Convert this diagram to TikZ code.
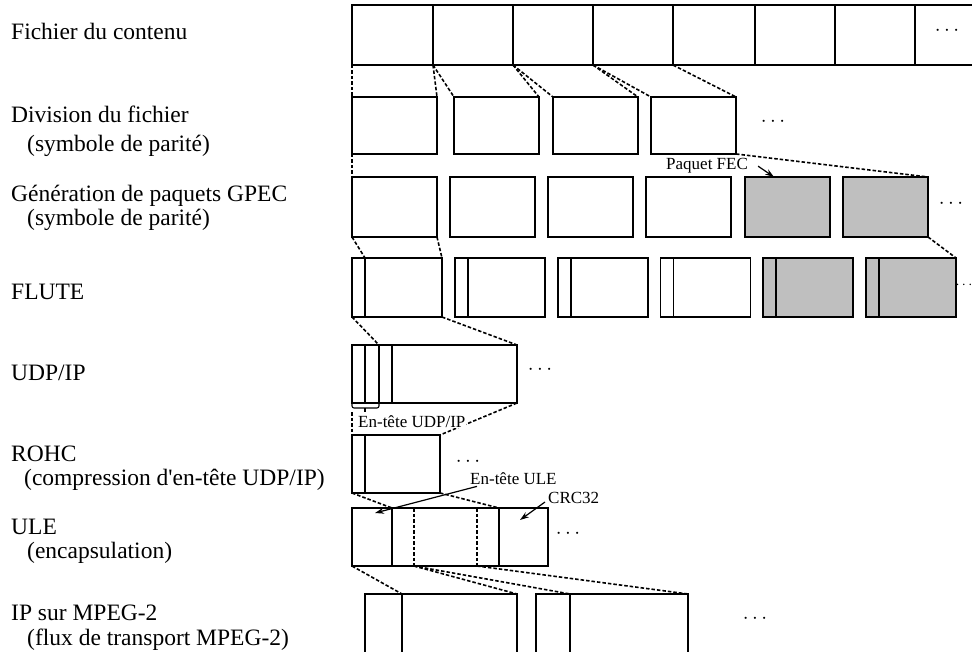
\documentclass[tikz,border=0pt]{standalone}
\usepackage{fontspec}
\setmainfont{Liberation Serif}
\usetikzlibrary{arrows.meta}
\tikzset{
  blk/.style={draw, line width=1.8pt, inner sep=0pt, outer sep=0pt, anchor=north west},
  fecblk/.style={blk, fill=gray!50},
  sep/.style={line width=1.8pt},
  thinsep/.style={line width=1.1pt},
  lnk/.style={line width=1.6pt, dash pattern=on 3.5pt off 2pt},
  brk/.style={line width=1.1pt, rounded corners=2pt},
  pt/.style={line width=1.2pt, -{Stealth[length=9pt,width=6pt]}},
  lab/.style={anchor=base west, inner sep=0pt, font=\fontsize{23.5}{28}\selectfont},
  tag/.style={anchor=base west, inner sep=1pt, font=\fontsize{17}{20}\selectfont},
  dots/.style={inner sep=0pt, font=\fontsize{20}{24}\selectfont},
}

\begin{document}
\begin{tikzpicture}[x=1pt,y=-1pt]
  \useasboundingbox (0,0) rectangle (972,652);

  % layer names
  \node[lab] (l1) at (11,40) {Fichier du contenu};
  \node[lab] (l2) at (11,123) {Division du fichier};
  \node[lab] (l2b) at (27,152) {(symbole de parité)};
  \node[lab] (l3) at (11,202) {Génération de paquets GPEC};
  \node[lab] (l3b) at (27,226) {(symbole de parité)};
  \node[lab] (l4) at (11,300) {FLUTE};
  \node[lab] (l5) at (11,381) {UDP/IP};
  \node[lab] (l6) at (11,461) {ROHC};
  \node[lab] (l6b) at (24,485) {(compression d\textquotesingle en-tête UDP/IP)};
  \node[lab] (l7) at (11,534) {ULE};
  \node[lab] (l7b) at (27,558) {(encapsulation)};
  \node[lab] (l8) at (11,620) {IP sur MPEG-2};
  \node[lab] (l8b) at (27,645) {(flux de transport MPEG-2)};

  % content file
  \node[blk, minimum width=625pt, minimum height=60pt] (file) at (352,5) {};
  \foreach \x [count=\i] in {433,513,593,673,755,835,915}
    \draw[thinsep] (\x,5) -- (\x,65) coordinate (c\i);
  \node[dots] (dt1) at (947,31) {$\cdots$};

  % file division
  \foreach \x/\n in {352/1,454/2,553/3,651/4}
    \node[blk, minimum width=85pt, minimum height=57pt] (d\n) at (\x,97) {};
  \draw[lnk] (file.south west) -- (d1.north west);
  \foreach \i/\j in {1/2,2/3,3/4} {
    \draw[lnk] (c\i) -- (d\i.north east);
    \draw[lnk] (c\i) -- (d\j.north west);
  }
  \draw[lnk] (c4) -- (d4.north east);
  \node[dots] (dt2) at (773,122) {$\cdots$};

  % FEC packets
  \foreach \x/\n/\s in {352/1/blk,450/2/blk,548/3/blk,646/4/blk,745/5/fecblk,843/6/fecblk}
    \node[\s, minimum width=85pt, minimum height=60pt] (g\n) at (\x,177) {};
  \draw[lnk] (d1.south west) -- (g1.north west);
  \draw[lnk] (d4.south east) -- (g6.north east);
  \node[tag] (fec) at (665,170) {Paquet FEC};
  \draw[pt] ([xshift=9pt]fec.east) -- ([xshift=29pt]g5.north west);
  \node[dots] (dt3) at (951,204) {$\cdots$};

  % FLUTE
  \foreach \x/\n/\s in {352/1/blk,454.8/2/blk,557.6/3/blk,660.4/4/blk,763.2/5/fecblk,866/6/fecblk} {
    \node[\s, minimum width=90pt, minimum height=59pt] (f\n) at (\x,258) {};
    \draw[sep] ([xshift=13pt]f\n.north west) coordinate (fh\n) -- ([xshift=13pt]f\n.south west);
  }
  \draw[lnk] (g1.south west) -- (fh1);
  \draw[lnk] (g1.south east) -- (f1.north east);
  \draw[lnk] (g6.south east) -- (f6.north east);
  \node[dots, font=\fontsize{15}{18}\selectfont] (dt4) at (964,285) {$\cdots$};

  % UDP/IP
  \node[blk, minimum width=165pt, minimum height=58pt] (u) at (352,345) {};
  \foreach \x [count=\i] in {13,27,40}
    \draw[sep] ([xshift=\x pt]u.north west) coordinate (uh\i) -- ([xshift=\x pt]u.south west);
  \draw[lnk] (f1.south west) -- (uh2);
  \draw[lnk] (f1.south east) -- (u.north east);
  \draw[brk] (u.south west) -- ++(0,5) -- ++(27,0) -- ++(0,-5);
  \draw[brk] ([xshift=13pt]u.south west) ++(0,5) -- ++(0,4);
  \node[dots] (dt5) at (540,370) {$\cdots$};

  % ROHC
  \node[blk, minimum width=88pt, minimum height=58pt] (r) at (352,435) {};
  \draw[sep] ([xshift=13pt]r.north west) -- ([xshift=13pt]r.south west);
  \draw[lnk] ([yshift=-9pt]u.south west) -- (r.north west);
  \draw[lnk] (u.south east) -- (r.north east);
  \node[tag, fill=white] (udphd) at (357,427) {En-tête UDP/IP};
  \node[dots] (dt6) at (468,462) {$\cdots$};

  % ULE
  \node[blk, minimum width=196pt, minimum height=58pt] (e) at (352,508) {};
  \draw[sep] ([xshift=40pt]e.north west) coordinate (eh) -- ([xshift=40pt]e.south west);
  \draw[lnk] ([xshift=62pt]e.north west) -- ([xshift=62pt]e.south west) coordinate (ep1);
  \draw[lnk] ([xshift=125pt]e.north west) -- ([xshift=125pt]e.south west) coordinate (ep2);
  \draw[sep] ([xshift=147pt]e.north west) coordinate (ec) -- ([xshift=147pt]e.south west);
  \draw[lnk] (r.south west) -- (eh);
  \draw[lnk] (r.south east) -- (ec);
  \node[tag] (ulehd) at (469,484) {En-tête ULE};
  \draw[pt] ([xshift=8pt,yshift=-1pt]ulehd.south west) -- ([xshift=23pt,yshift=-5pt]e.north west);
  \node[tag] (crc) at (547,503) {CRC32};
  \draw[pt] ([xshift=-2pt,yshift=1pt]crc.base west) -- ([xshift=21pt,yshift=-12pt]ec);
  \node[dots] (dt7) at (568,534) {$\cdots$};

  % IP over MPEG-2
  \foreach \x/\n/\h in {365/1/37,536/2/34} {
    \node[blk, minimum width=152pt, minimum height=64pt] (m\n) at (\x,594) {};
    \draw[sep] ([xshift=\h pt]m\n.north west) coordinate (mh\n) -- ([xshift=\h pt]m\n.south west);
  }
  \draw[lnk] (e.south west) -- (mh1);
  \draw[lnk] (ep1) -- (m1.north east);
  \draw[lnk] (ep1) -- (mh2);
  \draw[lnk] (ep2) -- (m2.north east);
  \node[dots] (dt8) at (755,619) {$\cdots$};
\end{tikzpicture}
\end{document}
